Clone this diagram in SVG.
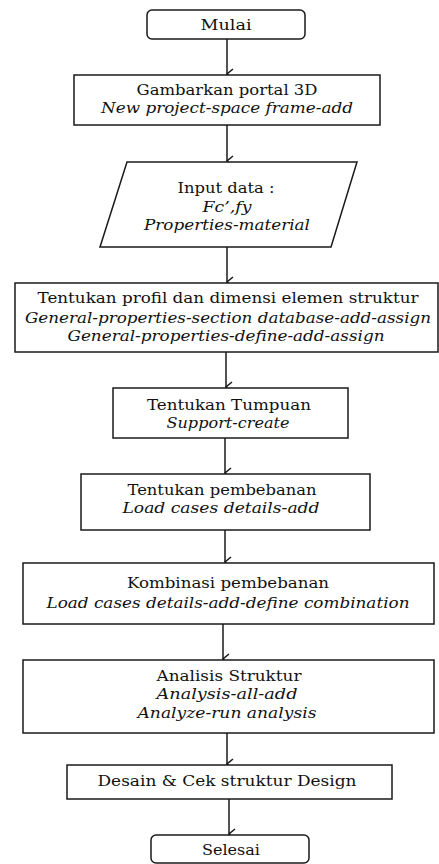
<svg xmlns="http://www.w3.org/2000/svg" width="439" height="864" viewBox="0 0 439 864">
<style>
.b{fill:#fff;stroke:#1a1a1a;stroke-width:1.5}
.t{font-family:"DejaVu Serif","Liberation Serif",serif;font-size:14px;fill:#111;text-anchor:middle}
.i{font-style:italic}
.c{stroke:#1a1a1a;stroke-width:1.5;fill:none}
</style>
<defs>
<marker id="ah" viewBox="0 0 12 10" refX="6" refY="9" markerWidth="12" markerHeight="10" markerUnits="userSpaceOnUse" orient="auto">
<path d="M1,3 L6,9 L11,3" fill="none" stroke="#1a1a1a" stroke-width="1.5"/>
</marker>
</defs>
<rect width="439" height="864" fill="#fff"/>
<g id="connectors">
<path class="c" d="M227,39 V74" marker-end="url(#ah)"/>
<path class="c" d="M227,125 V161" marker-end="url(#ah)"/>
<path class="c" d="M227,247 V282" marker-end="url(#ah)"/>
<path class="c" d="M226,352 V387" marker-end="url(#ah)"/>
<path class="c" d="M225,438 V473" marker-end="url(#ah)"/>
<path class="c" d="M225,530 V562" marker-end="url(#ah)"/>
<path class="c" d="M223,624 V659" marker-end="url(#ah)"/>
<path class="c" d="M227,733 V764" marker-end="url(#ah)"/>
<path class="c" d="M229,799 V834" marker-end="url(#ah)"/>
</g>
<g id="mulai">
<rect class="b" x="147" y="10" width="158" height="29" rx="5"/>
<text class="t" x="226" y="30" textLength="51" lengthAdjust="spacingAndGlyphs">Mulai</text>
</g>
<g id="gambarkan">
<rect class="b" x="74" y="75" width="306" height="50"/>
<text class="t" x="227" y="95" textLength="181" lengthAdjust="spacingAndGlyphs">Gambarkan portal 3D</text>
<text class="t i" x="227" y="113" textLength="252" lengthAdjust="spacingAndGlyphs">New project-space frame-add</text>
</g>
<g id="input">
<polygon class="b" points="127,162 357,162 331,247 100,247"/>
<text class="t" x="226" y="193" textLength="97" lengthAdjust="spacingAndGlyphs">Input data :</text>
<text class="t i" x="227" y="212" textLength="49" lengthAdjust="spacingAndGlyphs">Fc’,fy</text>
<text class="t i" x="227" y="230" textLength="166" lengthAdjust="spacingAndGlyphs">Properties-material</text>
</g>
<g id="profil">
<rect class="b" x="15" y="283" width="423" height="69"/>
<text class="t" x="228" y="303" textLength="381" lengthAdjust="spacingAndGlyphs">Tentukan profil dan dimensi elemen struktur</text>
<text class="t i" x="228" y="323" textLength="406" lengthAdjust="spacingAndGlyphs">General-properties-section database-add-assign</text>
<text class="t i" x="226" y="341" textLength="317" lengthAdjust="spacingAndGlyphs">General-properties-define-add-assign</text>
</g>
<g id="tumpuan">
<rect class="b" x="113" y="388" width="235" height="50"/>
<text class="t" x="229" y="410" textLength="164" lengthAdjust="spacingAndGlyphs">Tentukan Tumpuan</text>
<text class="t i" x="228" y="428" textLength="123" lengthAdjust="spacingAndGlyphs">Support-create</text>
</g>
<g id="pembebanan">
<rect class="b" x="81" y="474" width="289" height="56"/>
<text class="t" x="222" y="495" textLength="189" lengthAdjust="spacingAndGlyphs">Tentukan pembebanan</text>
<text class="t i" x="221" y="513" textLength="197" lengthAdjust="spacingAndGlyphs">Load cases details-add</text>
</g>
<g id="kombinasi">
<rect class="b" x="23" y="563" width="411" height="61"/>
<text class="t" x="228" y="588" textLength="202" lengthAdjust="spacingAndGlyphs">Kombinasi pembebanan</text>
<text class="t i" x="228" y="608" textLength="363" lengthAdjust="spacingAndGlyphs">Load cases details-add-define combination</text>
</g>
<g id="analisis">
<rect class="b" x="23" y="660" width="411" height="73"/>
<text class="t" x="229" y="681" textLength="145" lengthAdjust="spacingAndGlyphs">Analisis Struktur</text>
<text class="t i" x="227" y="699" textLength="141" lengthAdjust="spacingAndGlyphs">Analysis-all-add</text>
<text class="t i" x="227" y="718" textLength="179" lengthAdjust="spacingAndGlyphs">Analyze-run analysis</text>
</g>
<g id="desain">
<rect class="b" x="67" y="765" width="325" height="34"/>
<text class="t" x="227" y="786" textLength="259" lengthAdjust="spacingAndGlyphs">Desain &amp; Cek struktur Design</text>
</g>
<g id="selesai">
<rect class="b" x="151" y="835" width="158" height="28" rx="5"/>
<text class="t" x="231" y="855" textLength="58" lengthAdjust="spacingAndGlyphs">Selesai</text>
</g>
</svg>
